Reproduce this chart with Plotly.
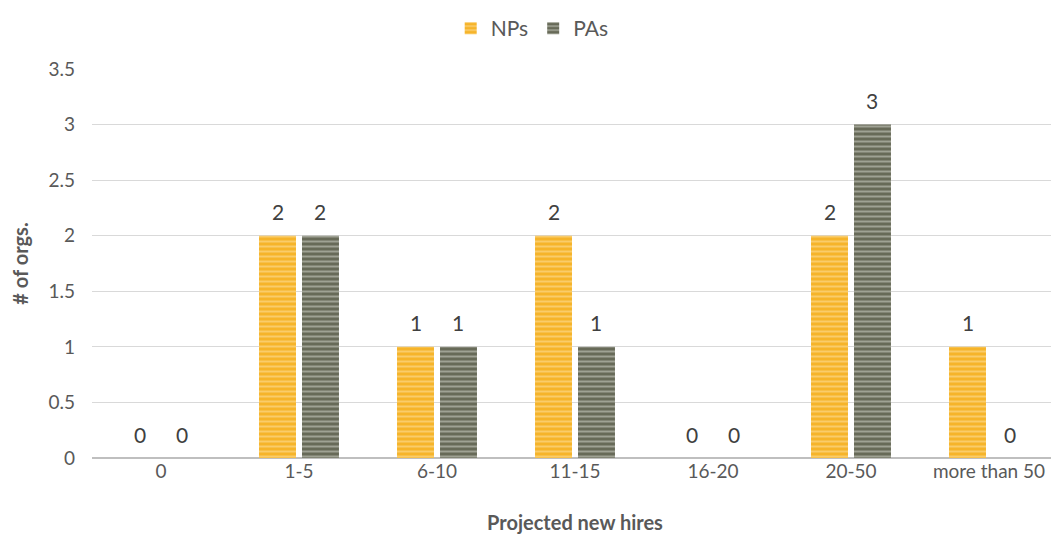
import plotly.graph_objects as go

categories = ["0", "1-5", "6-10", "11-15", "16-20", "20-50", "more than 50"]
nps = [0, 2, 1, 2, 0, 2, 1]
pas = [0, 2, 1, 1, 0, 3, 0]

font_family = "Lato, 'Open Sans', sans-serif"
text_color = "#404040"
axis_color = "#595959"

L, R, T, B = 84, 9, 61, 85
W, H = 1059, 535
BARGAP, GROUPGAP = 0.377, 0.14

fig = go.Figure()
fig.add_trace(go.Bar(
    name="NPs", x=categories, y=nps,
    marker=dict(color="#F6B42A", line=dict(width=0),
                pattern=dict(shape="-", fgcolor="#FDE4AA", size=5, solidity=0.4)),
))
fig.add_trace(go.Bar(
    name="PAs", x=categories, y=pas,
    marker=dict(color="#676A58", line=dict(width=0),
                pattern=dict(shape="-", fgcolor="#D8D9D0", size=5, solidity=0.4)),
))

# data labels above bars, positioned from the data values
cat_px = (W - L - R) / len(categories)
slot = cat_px * (1 - BARGAP) / 2
annotations = []
for series, sign in ((nps, -1), (pas, 1)):
    for c, v in zip(categories, series):
        annotations.append(dict(
            x=c, y=v, xref="x", yref="y", text=str(v), showarrow=False,
            xshift=sign * slot / 2, yshift=24, yanchor="middle",
            font=dict(size=21, color=text_color, family=font_family),
        ))

fig.update_layout(
    width=W, height=H,
    paper_bgcolor="white", plot_bgcolor="white",
    margin=dict(l=L, r=R, t=T, b=B, autoexpand=False),
    barmode="group", bargap=BARGAP, bargroupgap=GROUPGAP,
    font=dict(family=font_family, color=axis_color, size=19),
    annotations=annotations,
    legend=dict(orientation="h", xref="container", x=0.495, xanchor="center",
                yref="container", y=1.0, yanchor="top",
                font=dict(size=21, color=axis_color), traceorder="normal",
                itemwidth=30),
    xaxis=dict(
        title=dict(text="<b>Projected new hires</b>", font=dict(size=20, color=axis_color), standoff=34),
        tickfont=dict(size=19, color=axis_color),
        showgrid=False, showline=False, ticks="",
    ),
    yaxis=dict(
        title=dict(text="<b># of orgs.</b>", font=dict(size=20, color=axis_color), standoff=34),
        range=[0, 3.5], dtick=0.5,
        tickfont=dict(size=19, color=axis_color),
        ticklabelstandoff=16,
        showgrid=True, gridcolor="#D9D9D9", gridwidth=1,
        zeroline=True, zerolinecolor="#BFBFBF", zerolinewidth=2,
        ticks="", ticklen=0,
    ),
)

fig.write_html("out.html")
